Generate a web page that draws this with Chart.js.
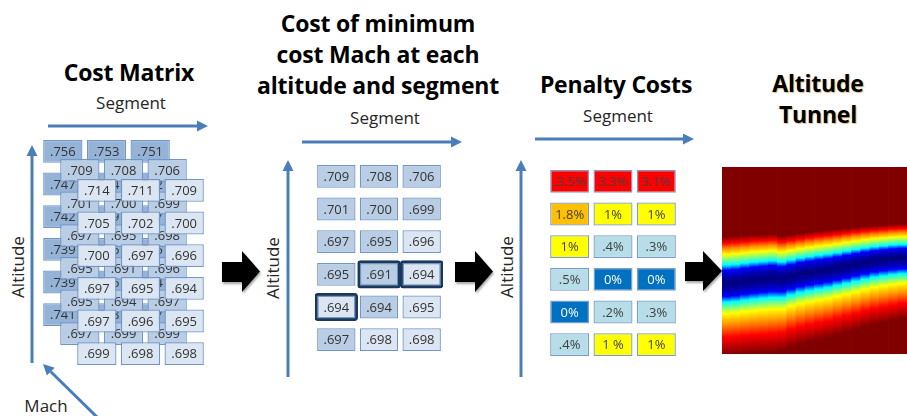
<!DOCTYPE html>
<html>
<head>
<meta charset="utf-8">
<script src="https://cdn.jsdelivr.net/npm/chart.js"></script>
<style>
    body { margin: 0; width: 907px; height: 416px; position: relative; overflow: hidden; background: #fff; font-family: "Open Sans", sans-serif; }
    .titulo { position: absolute; font-weight: bold; font-size: 23px; color: #000; text-align: center; white-space: nowrap; transform: translate(-50%, -50%); line-height: 31px; letter-spacing: -0.2px; }
    .rotulo { position: absolute; font-size: 17px; color: #262626; white-space: nowrap; transform: translate(-50%, -50%); }
    .vertical { transform: translate(-50%, -50%) rotate(-90deg); }
    .grafico { position: absolute; }
    svg { position: absolute; left: 0; top: 0; }
</style>
</head>
<body>

<svg width="907" height="416">
    <g stroke="#4a7ebb" stroke-width="3" fill="none">
        <line x1="48" y1="126" x2="198" y2="126" />
        <line x1="32" y1="363" x2="32" y2="155" />
        <line x1="302" y1="142" x2="452" y2="142" />
        <line x1="288" y1="377" x2="288" y2="170" />
        <line x1="535" y1="139" x2="684" y2="139" />
        <line x1="521" y1="377" x2="521" y2="170" />
        <line x1="100" y1="420" x2="50.8" y2="371.7" />
    </g>
    <g fill="#4a7ebb">
        <polygon points="197,120.5 208,126 197,131.5" />
        <polygon points="26.5,156 32,145 37.5,156" />
        <polygon points="451,136.5 462,142 451,147.5" />
        <polygon points="282.5,171 288,160 293.5,171" />
        <polygon points="683,133.5 694,139 683,144.5" />
        <polygon points="515.5,171 521,160 526.5,171" />
        <polygon points="43,364 54.7,367.8 46.9,375.6" />
    </g>
    <g fill="#000" style="filter: drop-shadow(1px 2px 1px rgba(0,0,0,0.35));">
        <polygon points="222,262 242,262 242,251 260,271.5 242,292 242,282 222,282" />
        <polygon points="455,262 475,262 475,251 493,271.5 475,292 475,282 455,282" />
        <polygon points="685,262 703,262 703,251 722,271 703,291 703,281 685,281" />
    </g>
</svg>

<div class="titulo" style="left:129px; top:72px;">Cost Matrix</div>
<div class="titulo" style="left:378px; top:54px;">Cost of minimum<br>cost Mach at each<br>altitude and segment</div>
<div class="titulo" style="left:616px; top:84px;">Penalty Costs</div>
<div class="titulo" style="left:818px; top:99px; text-shadow: 1px 1px 1px rgba(190,120,20,0.5);">Altitude<br>Tunnel</div>

<div class="rotulo" style="left:131px; top:102px;">Segment</div>
<div class="rotulo" style="left:385px; top:117px;">Segment</div>
<div class="rotulo" style="left:618px; top:115px;">Segment</div>
<div class="rotulo vertical" style="left:17px; top:267px;">Altitude</div>
<div class="rotulo vertical" style="left:272px; top:268px;">Altitude</div>
<div class="rotulo vertical" style="left:506px; top:267px;">Altitude</div>
<div class="rotulo" style="left:46px; top:405px;">Mach</div>

<div class="grafico" style="left:41px; top:135px;"><canvas id="machTras" width="131" height="196"></canvas></div>
<div class="grafico" style="left:58px; top:154px;"><canvas id="machMeio" width="131" height="196"></canvas></div>
<div class="grafico" style="left:75px; top:174px;"><canvas id="machFrente" width="131" height="196"></canvas></div>
<div class="grafico" style="left:315px; top:160px;"><canvas id="custoMinimo" width="128" height="196"></canvas></div>
<div class="grafico" style="left:548px; top:165px;"><canvas id="penalidade" width="130" height="196"></canvas></div>
<div class="grafico" style="left:722px; top:167px;"><canvas id="tunel" width="185" height="187"></canvas></div>

<script>
// segments (x) and altitude rows (top to bottom)
var segmentos = ['1', '2', '3'];

// cost matrix, one table per Mach (back, middle, front)
var custoMachTras = [
    [0.756, 0.753, 0.751],
    [0.747, 0.744, 0.742],
    [0.742, 0.739, 0.737],
    [0.739, 0.736, 0.735],
    [0.739, 0.736, 0.734],
    [0.741, 0.738, 0.737]
];
var custoMachMeio = [
    [0.709, 0.708, 0.706],
    [0.701, 0.700, 0.699],
    [0.697, 0.695, 0.698],
    [0.695, 0.691, 0.696],
    [0.695, 0.694, 0.697],
    [0.697, 0.699, 0.699]
];
var custoMachFrente = [
    [0.714, 0.711, 0.709],
    [0.705, 0.702, 0.700],
    [0.700, 0.697, 0.696],
    [0.697, 0.695, 0.694],
    [0.697, 0.696, 0.695],
    [0.699, 0.698, 0.698]
];

// minimum cost over Mach, and which Mach gave it (1 = middle, 2 = front)
var custoMinimo = [
    [0.709, 0.708, 0.706],
    [0.701, 0.700, 0.699],
    [0.697, 0.695, 0.696],
    [0.695, 0.691, 0.694],
    [0.694, 0.694, 0.695],
    [0.697, 0.698, 0.698]
];
var machMinimo = [
    [1, 1, 1],
    [1, 1, 1],
    [1, 1, 2],
    [1, 1, 2],
    [2, 1, 2],
    [1, 2, 2]
];

// penalty costs in percent
var penalidade = [
    [3.5, 3.3, 3.1],
    [1.8, 1, 1],
    [1, 0.4, 0.3],
    [0.5, 0, 0],
    [0, 0.2, 0.3],
    [0.4, 1, 1]
];
var penalidadeTexto = [
    ['.3.5%', '3.3%', '3.1%'],
    ['1.8%', '1%', '1%'],
    ['1%', '.4%', '.3%'],
    ['.5%', '0%', '0%'],
    ['0%', '.2%', '.3%'],
    ['.4%', '1 %', '1%']
];

// altitude tunnel: band centre and distance to the red edge, per column (altitude 0-100)
var tunelColunas = ['1', '2', '3', '4', '5', '6', '7', '8', '9', '10', '11', '12', '13', '14', '15', '16', '17', '18', '19', '20'];
var tunelCentro = [37.7, 38.1, 38.9, 39.6, 40.2, 40.7, 40.3, 41.5, 42.8, 43.6, 44.3, 45.0, 46.0, 47.0, 48.1, 49.1, 50.0, 50.6, 51.1, 51.4];
var tunelAcima = [24.2, 24.2, 23.7, 23.4, 22.9, 22.7, 22.1, 21.6, 21.0, 20.9, 20.8, 20.6, 20.1, 19.7, 19.1, 18.6, 18.1, 17.8, 17.7, 17.6];
var tunelAbaixo = [28.8, 28.8, 29.1, 29.4, 29.7, 29.9, 28.9, 28.3, 28.2, 27.9, 27.5, 27.2, 26.9, 26.6, 26.4, 25.9, 25.6, 25.3, 24.9, 24.3];

var corMach = ['#95b3d7', '#b9cde5', '#dce6f2'];
var escalaAcima = [[0, '#00007a'], [0.14, '#0000a8'], [0.29, '#0000ff'], [0.41, '#00ffff'], [0.64, '#ffff00'], [0.77, '#ff8c00'], [0.89, '#ff0000'], [1.03, '#800000']];
var escalaAbaixo = [[0, '#00007a'], [0.12, '#0000a8'], [0.24, '#0000ff'], [0.35, '#00ffff'], [0.56, '#ffff00'], [0.77, '#ff8c00'], [1.0, '#ff0000'], [1.33, '#800000']];

Chart.defaults.font.family = 'Open Sans';
Chart.defaults.animation = false;

var textoCelula = {
    id: 'textoCelula',
    afterDatasetsDraw: function (chart) {
        var ctx = chart.ctx;
        ctx.save();
        ctx.font = '13px "Open Sans"';
        ctx.textAlign = 'center';
        ctx.textBaseline = 'middle';
        chart.data.datasets.forEach(function (ds, i) {
            if (!ds.textos) return;
            chart.getDatasetMeta(i).data.forEach(function (bar, j) {
                ctx.fillStyle = ds.corTexto ? ds.corTexto[j] : '#333333';
                ctx.fillText(ds.textos[j], bar.x, (bar.y + bar.base) / 2 + 1);
            });
        });
        ctx.restore();
    }
};

function formatarCusto(v) {
    return v.toFixed(3).replace('0.', '.');
}

function opcoesGrade(linhas) {
    return {
        responsive: false,
        layout: { padding: 0 },
        plugins: { legend: { display: false }, tooltip: { enabled: false } },
        scales: {
            x: { display: false },
            y: { display: false, min: 0, max: linhas, reverse: true }
        }
    };
}

function Grade(canvasId, valores, textos, cores, corTexto, borda, destacar) {
    var datasets = [];
    for (var r = 0; r < valores.length; r++) {
        datasets.push({
            data: segmentos.map(function () { return [r + 0.15, r + 0.85]; }),
            textos: textos[r],
            corTexto: corTexto ? corTexto[r] : null,
            backgroundColor: cores[r],
            borderColor: borda,
            borderWidth: 1.3,
            borderSkipped: false,
            grouped: false,
            barPercentage: 0.9,
            categoryPercentage: 1
        });
    }
    if (destacar) {
        // outline the cheapest altitude in each segment
        var linhaMin = segmentos.map(function (s, j) {
            var melhor = 0;
            for (var r = 1; r < valores.length; r++) {
                if (valores[r][j] < valores[melhor][j]) melhor = r;
            }
            return [melhor + 0.08, melhor + 0.92];
        });
        datasets.push({
            data: linhaMin,
            backgroundColor: 'rgba(0,0,0,0)',
            borderColor: '#1b3759',
            borderWidth: 3.5,
            borderRadius: 3,
            borderSkipped: false,
            grouped: false,
            barPercentage: 1,
            categoryPercentage: 1
        });
    }
    return new Chart(document.getElementById(canvasId), {
        type: 'bar',
        data: { labels: segmentos, datasets: datasets },
        options: opcoesGrade(valores.length),
        plugins: [textoCelula]
    });
}

function CamadaMach(canvasId, valores, cor) {
    var textos = valores.map(function (linha) { return linha.map(formatarCusto); });
    var cores = valores.map(function (linha) { return linha.map(function () { return cor; }); });
    return Grade(canvasId, valores, textos, cores, null, '#7096c8', false);
}

function CorPenalidade(v) {
    if (v >= 3) return '#ff0000';
    if (v >= 1.5) return '#ffc000';
    if (v >= 1) return '#ffff00';
    if (v > 0) return '#b7dee8';
    return '#0070c0';
}

function Tunel() {
    var canvas = document.getElementById('tunel');
    return new Chart(canvas, {
        type: 'bar',
        data: {
            labels: tunelColunas,
            datasets: [{
                data: tunelColunas.map(function () { return [0, 100]; }),
                borderWidth: 0,
                barPercentage: 1.08,
                categoryPercentage: 1,
                backgroundColor: function (c) {
                    var area = c.chart.chartArea;
                    var i = c.dataIndex;
                    if (!area || i === undefined) return '#800000';
                    var y = c.chart.scales.y;
                    var topo = y.getPixelForValue(200);
                    var base = y.getPixelForValue(-100);
                    if (!isFinite(topo) || !isFinite(base)) return '#800000';
                    var g = c.chart.ctx.createLinearGradient(0, topo, 0, base);
                    var pos = function (alt) { return Math.min(1, Math.max(0, (200 - alt) / 300)); };
                    for (var k = escalaAcima.length - 1; k >= 0; k--) {
                        g.addColorStop(pos(tunelCentro[i] + escalaAcima[k][0] * tunelAcima[i]), escalaAcima[k][1]);
                    }
                    for (var k = 1; k < escalaAbaixo.length; k++) {
                        g.addColorStop(pos(tunelCentro[i] - escalaAbaixo[k][0] * tunelAbaixo[i]), escalaAbaixo[k][1]);
                    }
                    return g;
                }
            }]
        },
        options: {
            responsive: false,
            layout: { padding: 0 },
            plugins: { legend: { display: false }, tooltip: { enabled: false } },
            scales: {
                x: { display: false },
                y: { display: false, min: 0, max: 100 }
            }
        }
    });
}

CamadaMach('machTras', custoMachTras, corMach[0]);
CamadaMach('machMeio', custoMachMeio, corMach[1]);
CamadaMach('machFrente', custoMachFrente, corMach[2]);

Grade('custoMinimo', custoMinimo,
    custoMinimo.map(function (l) { return l.map(formatarCusto); }),
    machMinimo.map(function (l) { return l.map(function (m) { return corMach[m]; }); }),
    null, '#7096c8', true);

Grade('penalidade', penalidade, penalidadeTexto,
    penalidade.map(function (l) { return l.map(CorPenalidade); }),
    penalidade.map(function (l) { return l.map(function (v) { return v === 0 ? '#ffffff' : '#404040'; }); }),
    '#7a9cc6', false);

Tunel();
</script>
</body>
</html>
